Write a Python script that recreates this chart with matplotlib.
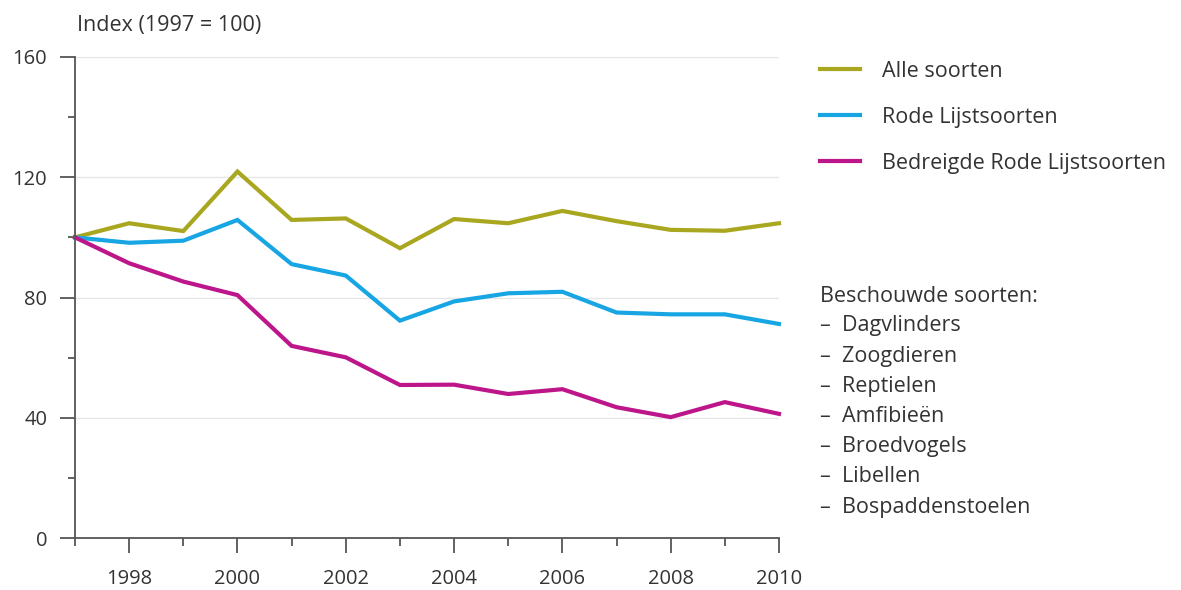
import matplotlib
matplotlib.use("Agg")
import matplotlib.pyplot as plt

# Data.
years = list(range(1997, 2011))
alle_soorten = [100, 104.7, 102.1, 121.9, 105.8, 106.3, 96.4,
                106.1, 104.7, 108.8, 105.4, 102.5, 102.2, 104.7]
rode_lijst = [100, 98.2, 98.9, 105.8, 91.1, 87.3, 72.3,
              78.7, 81.4, 81.9, 75.0, 74.4, 74.4, 71.2]
bedreigd = [100, 91.4, 85.3, 80.8, 63.9, 60.1, 50.9,
            51.0, 47.9, 49.5, 43.5, 40.2, 45.2, 41.3]

series_labels = ["Alle soorten", "Rode Lijstsoorten",
                 "Bedreigde Rode Lijstsoorten"]
species = ["Dagvlinders", "Zoogdieren", "Reptielen", "Amfibieën",
           "Broedvogels", "Libellen", "Bospaddenstoelen"]

colors = ["#A9A720", "#17A6E3", "#BD168A"]
text_color = "#333333"
axis_color = "#555555"

plt.rcParams["font.family"] = ["Open Sans", "DejaVu Sans"]

fig = plt.figure(figsize=(11.81, 5.90), dpi=100)
ax = fig.add_axes([75 / 1181, 1 - 538 / 590, 704 / 1181, 481 / 590])

# Plot the three index series.
for values, label, color in zip([alle_soorten, rode_lijst, bedreigd],
                                series_labels, colors):
    ax.plot(years, values, color=color, lw=3, label=label,
            solid_joinstyle="miter", clip_on=False)

# Axis limits, ticks and grid.
ax.set_xlim(1997, 2010)
ax.set_ylim(0, 160)
ax.set_yticks([0, 40, 80, 120, 160])
ax.set_yticks([20, 60, 100, 140], minor=True)
ax.set_xticks(range(1998, 2011, 2))
ax.set_xticks(range(1997, 2011, 2), minor=True)
ax.yaxis.grid(True, which="major", color="#e6e6e6", lw=1)
ax.set_axisbelow(True)

for side in ["top", "right"]:
    ax.spines[side].set_visible(False)
for side in ["left", "bottom"]:
    ax.spines[side].set_color(axis_color)
    ax.spines[side].set_linewidth(1.3)

ax.tick_params(axis="y", which="major", length=11, width=1.3,
               color=axis_color, labelsize=14.5, labelcolor=text_color,
               pad=9)
ax.tick_params(axis="y", which="minor", length=5, width=1.3,
               color=axis_color)
ax.tick_params(axis="x", which="major", length=11, width=1.3,
               color=axis_color, labelsize=14.5, labelcolor=text_color,
               pad=11)
ax.tick_params(axis="x", which="minor", length=6, width=1.3,
               color=axis_color)

fig.text(77 / 1181, 1 - 26 / 590, "Index (1997 = 100)", fontsize=15.5,
         color=text_color, va="center", ha="left")

# Legend on the right.
leg = ax.legend(loc="upper left", bbox_to_anchor=(820 / 1181, 1 - 61 / 590),
                bbox_transform=fig.transFigure, frameon=False, fontsize=15.5,
                handlelength=1.86, handletextpad=1.0, labelspacing=1.15,
                borderpad=0, borderaxespad=0)
for text in leg.get_texts():
    text.set_color(text_color)

# List of species taken into account.
fig.text(820 / 1181, 1 - 297 / 590, "Beschouwde soorten:", fontsize=15.5,
         color=text_color, va="center", ha="left")
for i, name in enumerate(species):
    fig.text(820 / 1181, 1 - (326 + i * 30.2) / 590, "–  " + name,
             fontsize=15.5, color=text_color, va="center", ha="left")

fig.savefig("out.png", dpi=100)
